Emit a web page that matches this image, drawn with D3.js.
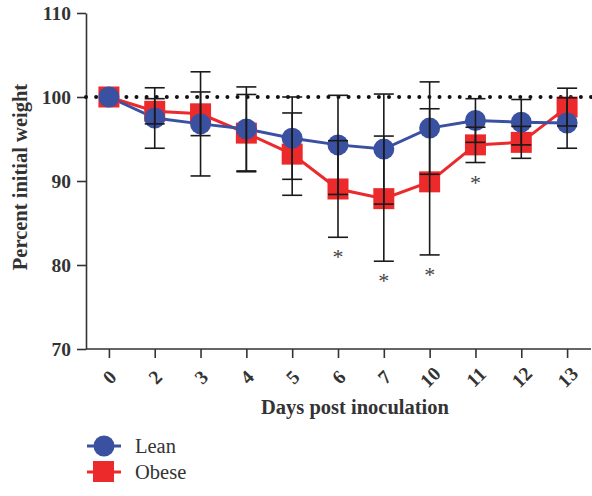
<!DOCTYPE html>
<html>
<head>
<meta charset="utf-8">
<script src="https://cdn.jsdelivr.net/npm/d3@7/dist/d3.min.js"></script>
<style>
  html, body { margin: 0; padding: 0; background: #fff; }
  svg { display: block; }
</style>
</head>
<body>
<svg id="chart" width="592" height="496"></svg>
<script>
// ---- Data ----
const days = ["0", "2", "3", "4", "5", "6", "7", "10", "11", "12", "13"];
const leanMean = [100, 97.5, 96.8, 96.2, 95.1, 94.3, 93.8, 96.3, 97.2, 97.0, 96.9];
const leanErr  = [0, 3.6, 6.2, 5.0, 4.9, 5.9, 6.55, 5.5, 2.6, 2.7, 3.0];
const obeseMean = [100, 98.3, 98.0, 95.7, 93.2, 89.05, 87.9, 89.9, 94.3, 94.6, 98.8];
const obeseErr  = [0, 1.5, 2.6, 4.6, 4.9, 5.75, 7.45, 8.7, 2.1, 1.9, 2.25];
const significantDays = ["6", "7", "10", "11"];
const yTicks = [70, 80, 90, 100, 110];
const baselineValue = 100;
const seriesNames = ["Lean", "Obese"];

// ---- Styles ----
const BLUE = "#3a51a2";
const RED = "#ec2a2b";
const AXIS = "#333";
const serif = "'Liberation Serif', 'DejaVu Serif', serif";

const svg = d3.select("#chart");

const x = d3.scalePoint().domain(days).range([86, 590]).padding(0.5);
const y = d3.scaleLinear().domain([70, 110]).range([349, 13]);

const lean = days.map((d, i) => ({ day: d, v: leanMean[i], e: leanErr[i] }));
const obese = days.map((d, i) => ({ day: d, v: obeseMean[i], e: obeseErr[i] }));

// ---- Axes ----
const yAxis = svg.append("g")
  .attr("transform", "translate(86,0)")
  .call(d3.axisLeft(y).tickValues(yTicks).tickSize(9).tickSizeOuter(0).tickPadding(6));
yAxis.select(".domain").attr("stroke", AXIS).attr("stroke-width", 1.6);
yAxis.selectAll(".tick line").attr("stroke", AXIS).attr("stroke-width", 1.6);
yAxis.selectAll(".tick text")
  .attr("font-family", serif).attr("font-weight", "bold").attr("font-size", 19.5)
  .attr("fill", "#333");

const xAxis = svg.append("g")
  .attr("transform", "translate(0,349)")
  .call(d3.axisBottom(x).tickSize(9).tickSizeOuter(0));
xAxis.select(".domain").attr("d", "M86,0H591").attr("stroke", AXIS).attr("stroke-width", 1.6);
xAxis.selectAll(".tick line").attr("stroke", AXIS).attr("stroke-width", 1.6);
xAxis.selectAll(".tick text")
  .attr("font-family", serif).attr("font-weight", "bold").attr("font-size", 19.5)
  .attr("fill", "#333")
  .attr("y", 0).attr("dy", "0.35em")
  .attr("text-anchor", "middle")
  .attr("transform", "translate(0,28) rotate(-45)");

// axis titles
svg.append("text")
  .attr("x", 355).attr("y", 414)
  .attr("text-anchor", "middle")
  .attr("font-family", serif).attr("font-weight", "bold").attr("font-size", 20.5)
  .attr("fill", "#333")
  .text("Days post inoculation");

svg.append("text")
  .attr("transform", "translate(27,177) rotate(-90)")
  .attr("text-anchor", "middle")
  .attr("font-family", serif).attr("font-weight", "bold").attr("font-size", 20.5)
  .attr("fill", "#333")
  .text("Percent initial weight");

// ---- Baseline dotted line ----
svg.append("line")
  .attr("x1", 86).attr("x2", 592)
  .attr("y1", y(baselineValue)).attr("y2", y(baselineValue))
  .attr("stroke", "#111").attr("stroke-width", 4)
  .attr("stroke-linecap", "round").attr("stroke-dasharray", "0,10.1");

// ---- Lines ----
const line = d3.line().x(d => x(d.day)).y(d => y(d.v));
svg.append("path").datum(obese).attr("d", line)
  .attr("fill", "none").attr("stroke", RED).attr("stroke-width", 3);
svg.append("path").datum(lean).attr("d", line)
  .attr("fill", "none").attr("stroke", BLUE).attr("stroke-width", 3);

// ---- Markers ----
svg.append("g").selectAll("rect").data(obese).join("rect")
  .attr("x", d => x(d.day) - 10.5).attr("y", d => y(d.v) - 10.5)
  .attr("width", 21).attr("height", 21).attr("fill", RED);
svg.append("g").selectAll("circle").data(lean).join("circle")
  .attr("cx", d => x(d.day)).attr("cy", d => y(d.v)).attr("r", 10.5)
  .attr("fill", BLUE);

// ---- Error bars ----
const errG = svg.append("g").attr("stroke", "#1a1a1a").attr("stroke-width", 1.6);
function drawErr(data) {
  data.filter(d => d.e > 0).forEach(d => {
    const cx = x(d.day), top = y(d.v + d.e), bot = y(d.v - d.e);
    errG.append("line").attr("x1", cx).attr("x2", cx).attr("y1", top).attr("y2", bot);
    errG.append("line").attr("x1", cx - 10).attr("x2", cx + 10).attr("y1", top).attr("y2", top);
    errG.append("line").attr("x1", cx - 10).attr("x2", cx + 10).attr("y1", bot).attr("y2", bot);
  });
}
drawErr(obese);
drawErr(lean);

// ---- Significance asterisks ----
svg.append("g").selectAll("text").data(obese.filter(d => significantDays.includes(d.day))).join("text")
  .attr("x", d => x(d.day))
  .attr("y", d => y(d.v - d.e) + 27)
  .attr("text-anchor", "middle")
  .attr("font-family", serif).attr("font-size", 22).attr("fill", "#444")
  .text("*");

// ---- Legend ----
const legend = svg.append("g");
const legY = [446, 472];
legend.append("line").attr("x1", 87).attr("x2", 121).attr("y1", legY[0]).attr("y2", legY[0])
  .attr("stroke", BLUE).attr("stroke-width", 3);
legend.append("circle").attr("cx", 104).attr("cy", legY[0]).attr("r", 10.5).attr("fill", BLUE);
legend.append("line").attr("x1", 87).attr("x2", 121).attr("y1", legY[1]).attr("y2", legY[1])
  .attr("stroke", RED).attr("stroke-width", 3);
legend.append("rect").attr("x", 93).attr("y", legY[1] - 11).attr("width", 21).attr("height", 21).attr("fill", RED);
legend.selectAll("text").data(seriesNames).join("text")
  .attr("x", 135).attr("y", (d, i) => legY[i] + 7)
  .attr("font-family", serif).attr("font-size", 20.5).attr("fill", "#333")
  .text(d => d);
</script>
</body>
</html>
